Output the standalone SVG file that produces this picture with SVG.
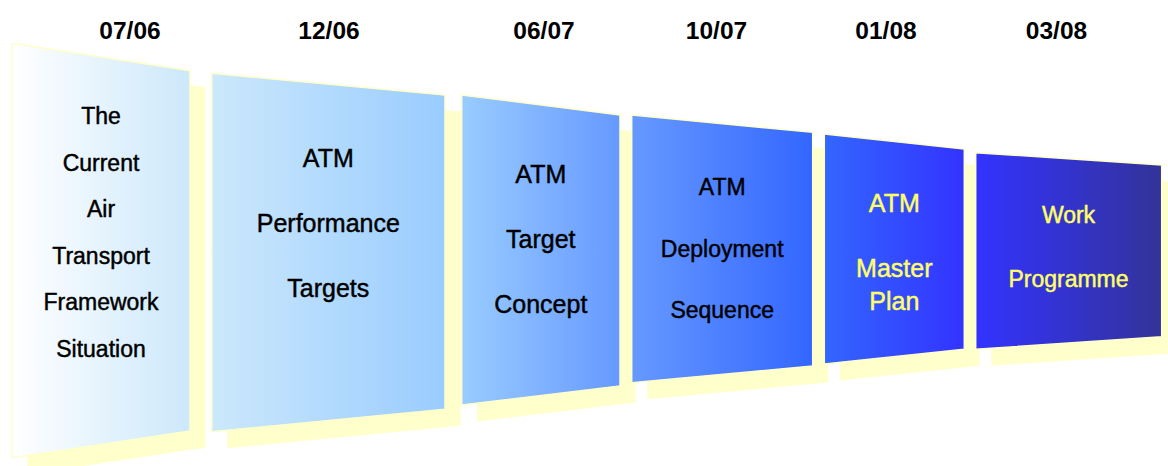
<svg xmlns="http://www.w3.org/2000/svg" width="1168" height="466" viewBox="0 0 1168 466">
  <style>
    .date { font-family: "Liberation Sans", Arial, sans-serif; font-weight: bold; font-size: 24.5px; fill: #000; text-anchor: middle; }
    .lbl { font-family: "Liberation Sans", Arial, sans-serif; text-anchor: middle; fill: #000; stroke: #000; stroke-width: 0.45px; }
    .lbl.y { fill: #FFFF66; stroke: #FFFF66; }
    .shadow { fill: #FFFFCC; }
    .panel { stroke: #FFFFCC; stroke-width: 1.5; stroke-linejoin: miter; }
  </style>
  <defs>
    <linearGradient id="g1" x1="0" y1="0" x2="1" y2="0">
      <stop offset="0" stop-color="#FFFFFF"/>
      <stop offset="1" stop-color="#CCE8FB"/>
    </linearGradient>
    <linearGradient id="g2" x1="0" y1="0" x2="1" y2="0">
      <stop offset="0" stop-color="#CCE8FB"/>
      <stop offset="1" stop-color="#99CCFF"/>
    </linearGradient>
    <linearGradient id="g3" x1="0" y1="0" x2="1" y2="0">
      <stop offset="0" stop-color="#99CCFF"/>
      <stop offset="1" stop-color="#6699FF"/>
    </linearGradient>
    <linearGradient id="g4" x1="0" y1="0" x2="1" y2="0">
      <stop offset="0" stop-color="#6699FF"/>
      <stop offset="1" stop-color="#3366FF"/>
    </linearGradient>
    <linearGradient id="g5" x1="0" y1="0" x2="1" y2="0">
      <stop offset="0" stop-color="#3366FF"/>
      <stop offset="1" stop-color="#3333FF"/>
    </linearGradient>
    <linearGradient id="g6" x1="0" y1="0" x2="1" y2="0">
      <stop offset="0" stop-color="#3333FF"/>
      <stop offset="1" stop-color="#333399"/>
    </linearGradient>
  </defs>

  <rect width="1168" height="466" fill="#FFFFFF"/>

  <!-- dates along the top -->
  <g id="dates">
    <text class="date" x="130" y="39">07/06</text>
    <text class="date" x="329" y="39">12/06</text>
    <text class="date" x="544" y="39">06/07</text>
    <text class="date" x="716.5" y="39">10/07</text>
    <text class="date" x="886" y="39">01/08</text>
    <text class="date" x="1056.5" y="39">03/08</text>
  </g>

  <!-- drop shadows behind each panel -->
  <g id="shadows" transform="translate(15.5,16.5)">
    <polygon class="shadow" points="11.7,43.3 190,70.7 190,431 11.7,458"/>
    <polygon class="shadow" points="211.7,73.3 445,95 445,409.3 211.7,431.7"/>
    <polygon class="shadow" points="461.7,95 620,115 620,386 461.7,405"/>
    <polygon class="shadow" points="631.7,115 812.7,132.3 812.7,366 631.7,382.7"/>
    <polygon class="shadow" points="824.3,134 964.3,149 964.3,349.3 824.3,364"/>
    <polygon class="shadow" points="975.7,152.7 1161.7,165 1161.7,336.7 975.7,349.3"/>
  </g>

  <g id="panel-current">
    <polygon class="panel" fill="url(#g1)" points="11.7,43.3 190,70.7 190,431 11.7,458"/>
    <g class="lbl" font-size="23">
      <text x="101" y="124.3">The</text>
      <text x="101" y="170.7">Current</text>
      <text x="101" y="217">Air</text>
      <text x="101" y="263.5">Transport</text>
      <text x="101" y="310">Framework</text>
      <text x="101" y="356.5">Situation</text>
    </g>
  </g>

  <g id="panel-performance">
    <polygon class="panel" fill="url(#g2)" points="211.7,73.3 445,95 445,409.3 211.7,431.7"/>
    <g class="lbl" font-size="25">
      <text x="328.3" y="166.5">ATM</text>
      <text x="328.3" y="231.5">Performance</text>
      <text x="328.3" y="297">Targets</text>
    </g>
  </g>

  <g id="panel-concept">
    <polygon class="panel" fill="url(#g3)" points="461.7,95 620,115 620,386 461.7,405"/>
    <g class="lbl" font-size="25">
      <text x="540.8" y="182.5">ATM</text>
      <text x="540.8" y="247.5">Target</text>
      <text x="540.8" y="312.5">Concept</text>
    </g>
  </g>

  <g id="panel-deployment">
    <polygon class="panel" fill="url(#g4)" points="631.7,115 812.7,132.3 812.7,366 631.7,382.7"/>
    <g class="lbl" font-size="23">
      <text x="722.2" y="195">ATM</text>
      <text x="722.2" y="256.7">Deployment</text>
      <text x="722.2" y="318.3">Sequence</text>
    </g>
  </g>

  <g id="panel-master-plan">
    <polygon class="panel" fill="url(#g5)" points="824.3,134 964.3,149 964.3,349.3 824.3,364"/>
    <g class="lbl y" font-size="25">
      <text x="894.3" y="211.7">ATM</text>
      <text x="894.3" y="277.3">Master</text>
      <text x="894.3" y="310">Plan</text>
    </g>
  </g>

  <g id="panel-work-programme">
    <polygon class="panel" fill="url(#g6)" points="975.7,152.7 1161.7,165 1161.7,336.7 975.7,349.3"/>
    <g class="lbl y" font-size="23">
      <text x="1068.5" y="223.3">Work</text>
      <text x="1068.5" y="286.7">Programme</text>
    </g>
  </g>
</svg>
